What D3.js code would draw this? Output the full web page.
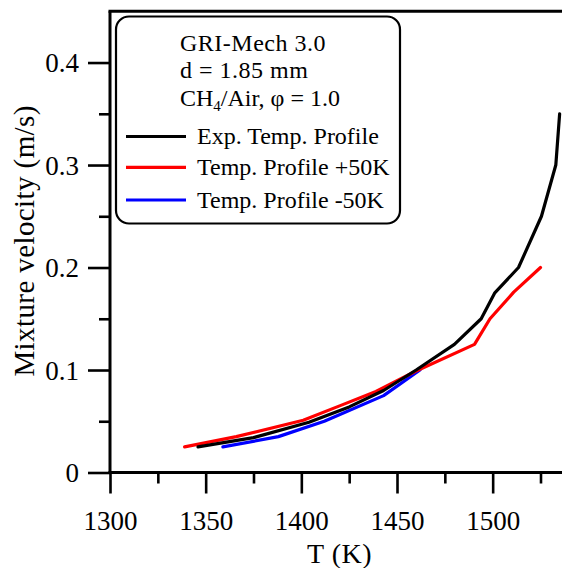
<!DOCTYPE html>
<html>
<head>
<meta charset="utf-8">
<script src="https://cdn.jsdelivr.net/npm/d3@7"></script>
<style>
  html, body { margin: 0; padding: 0; background: #fff; }
  svg { display: block; }
  text { font-family: "Liberation Serif", "DejaVu Serif", serif; fill: #000; }
</style>
</head>
<body>
<svg id="chart" width="562" height="568"></svg>
<script>
// ---- data ----
const expT = [1346, 1375, 1404, 1425, 1443, 1460, 1480, 1494, 1501, 1513.5, 1525.5, 1533, 1535];
const expV = [0.025, 0.034, 0.049, 0.064, 0.080, 0.100, 0.125, 0.150, 0.175, 0.200, 0.250, 0.300, 0.350];

const plusT = [1339, 1366, 1401, 1420, 1439, 1460, 1490.5, 1498.6, 1511, 1525];
const plusV = [0.025, 0.035, 0.051, 0.065, 0.079, 0.099, 0.125, 0.150, 0.176, 0.200];

const minusT = [1359, 1388, 1412, 1443, 1462];
const minusV = [0.025, 0.035, 0.050, 0.075, 0.100];

const seriesNames = ["Exp. Temp. Profile", "Temp. Profile +50K", "Temp. Profile -50K"];
const seriesColors = ["#000000", "#ff0000", "#0000ff"];

const xMajorTicks = [1300, 1350, 1400, 1450, 1500];
const xMinorTicks = [1325, 1375, 1425, 1475, 1525];
const yMajorTicks = [0, 0.1, 0.2, 0.3, 0.4];
const yMinorTicks = [0.05, 0.15, 0.25, 0.35];
const yTickLabels = ["0", "0.1", "0.2", "0.3", "0.4"];

const xTitle = "T (K)";
const yTitle = "Mixture velocity (m/s)";

// ---- layout ----
const svg = d3.select("#chart");
const pL = 110, pR = 569.2, pT = 11.3, pB = 472.5;

const x = d3.scaleLinear().domain([1300, 1540]).range([pL, pR]);
const y = d3.scaleLinear().domain([0, 0.45]).range([pB, pT]);

const axisW = 3;
const tickW = 2.6;

// x axis
const gx = svg.append("g").attr("transform", `translate(0,${pB})`);
gx.call(d3.axisBottom(x).tickValues(xMajorTicks).tickSize(21).tickFormat(d3.format("d")).tickSizeOuter(0));
gx.select(".domain").remove();
gx.selectAll(".tick line").attr("stroke", "#000").attr("stroke-width", tickW);
gx.selectAll(".tick text").attr("font-size", 27).attr("dy", null).attr("y", 57)
  .attr("fill", "#000").style("font-family", "Liberation Serif, serif");
const gxm = svg.append("g").attr("transform", `translate(0,${pB})`);
gxm.call(d3.axisBottom(x).tickValues(xMinorTicks).tickSize(11).tickFormat(""));
gxm.select(".domain").remove();
gxm.selectAll(".tick line").attr("stroke", "#000").attr("stroke-width", tickW);

// y axis
const gy = svg.append("g").attr("transform", `translate(${pL},0)`);
gy.call(d3.axisLeft(y).tickValues(yMajorTicks).tickSize(22)
  .tickFormat((d, i) => yTickLabels[i]));
gy.select(".domain").remove();
gy.selectAll(".tick line").attr("stroke", "#000").attr("stroke-width", tickW);
gy.selectAll(".tick text").attr("font-size", 27).attr("x", -31).attr("dy", "0.34em")
  .attr("fill", "#000").style("font-family", "Liberation Serif, serif");
const gym = svg.append("g").attr("transform", `translate(${pL},0)`);
gym.call(d3.axisLeft(y).tickValues(yMinorTicks).tickSize(11).tickFormat(""));
gym.select(".domain").remove();
gym.selectAll(".tick line").attr("stroke", "#000").attr("stroke-width", tickW);

// frame lines (left, bottom, top)
svg.append("line").attr("x1", pL).attr("x2", pL).attr("y1", pT).attr("y2", pB)
  .attr("stroke", "#000").attr("stroke-width", axisW);
svg.append("line").attr("x1", pL - 1.5).attr("x2", pR).attr("y1", pB).attr("y2", pB)
  .attr("stroke", "#000").attr("stroke-width", axisW);
svg.append("line").attr("x1", pL - 1.5).attr("x2", pR).attr("y1", pT).attr("y2", pT)
  .attr("stroke", "#000").attr("stroke-width", axisW);

// series
const line = d3.line().x(d => x(d[0])).y(d => y(d[1]));
const series = [
  { t: expT, v: expV },
  { t: plusT, v: plusV },
  { t: minusT, v: minusV }
];
// draw order: blue, red, black on top
[2, 1, 0].forEach(i => {
  const pts = series[i].t.map((t, j) => [t, series[i].v[j]]);
  svg.append("path").datum(pts).attr("d", line)
    .attr("fill", "none").attr("stroke", seriesColors[i]).attr("stroke-width", 3.2)
    .attr("stroke-linejoin", "round").attr("stroke-linecap", "round");
});

// axis titles
svg.append("text").attr("x", (pL + pR) / 2).attr("y", 563).attr("text-anchor", "middle")
  .attr("font-size", 28).attr("letter-spacing", 0.5).text(xTitle);
svg.append("text").attr("transform", `translate(34,${(pT + pB) / 2 - 1}) rotate(-90)`)
  .attr("text-anchor", "middle").attr("font-size", 29).attr("letter-spacing", 0.4).text(yTitle);

// legend
const lg = svg.append("g");
lg.append("rect").attr("x", 116).attr("y", 16.5).attr("width", 284).attr("height", 207)
  .attr("rx", 13).attr("ry", 13).attr("fill", "#fff").attr("stroke", "#000").attr("stroke-width", 2.2);
const fs = 24;
lg.append("text").attr("x", 180).attr("y", 51).attr("font-size", fs).attr("letter-spacing", 0.5).text("GRI-Mech 3.0");
lg.append("text").attr("x", 180).attr("y", 78).attr("font-size", fs).attr("letter-spacing", 0.5).text("d = 1.85 mm");
const ch = lg.append("text").attr("x", 180).attr("y", 106).attr("font-size", fs);
ch.append("tspan").text("CH");
ch.append("tspan").attr("font-size", 15).attr("dy", 5).text("4");
ch.append("tspan").attr("dy", -5).text("/Air, φ = 1.0");

const entryY = [136.5, 167.3, 200];
seriesNames.forEach((name, i) => {
  lg.append("line").attr("x1", 126).attr("x2", 186).attr("y1", entryY[i]).attr("y2", entryY[i])
    .attr("stroke", seriesColors[i]).attr("stroke-width", 3.2);
  lg.append("text").attr("x", 197).attr("y", entryY[i] + 7.5).attr("font-size", fs).text(name);
});
</script>
</body>
</html>
